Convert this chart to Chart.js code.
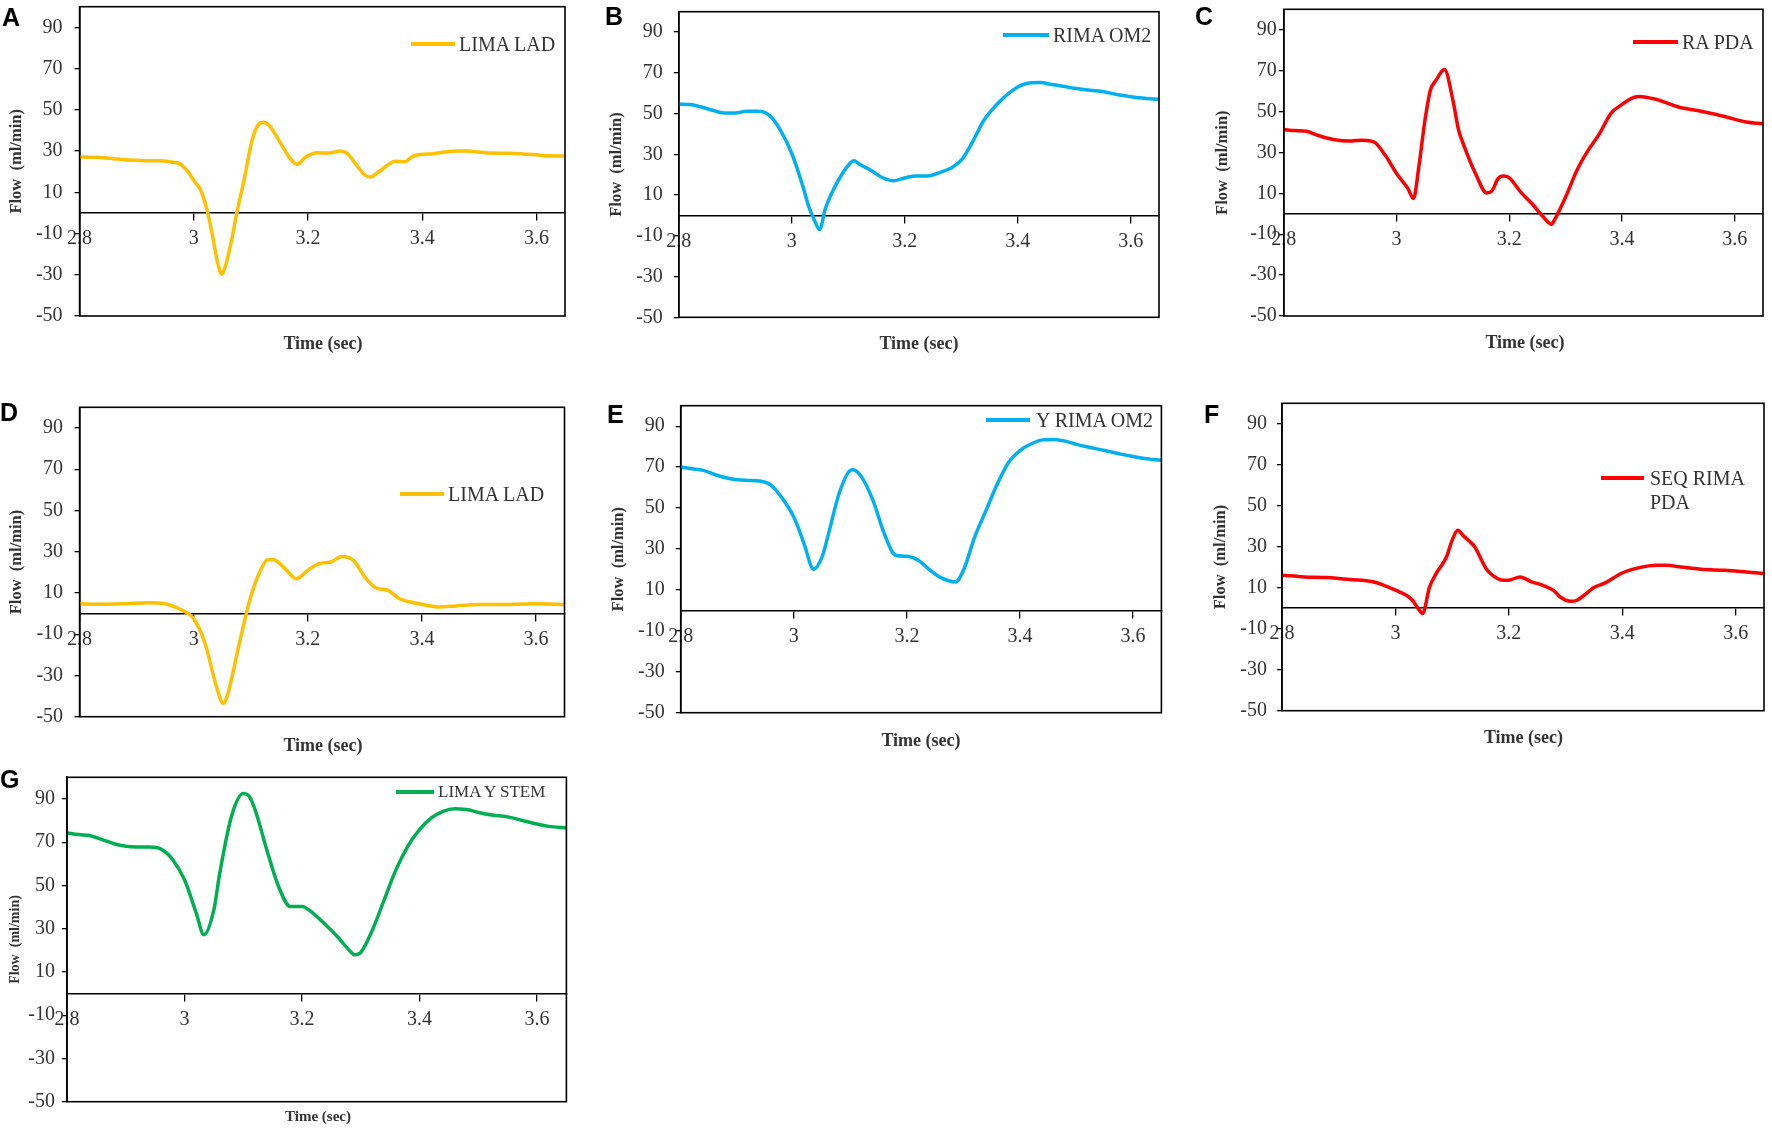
<!DOCTYPE html>
<html>
<head>
<meta charset="utf-8">
<script src="https://cdn.jsdelivr.net/npm/chart.js@4"></script>
<style>
html,body{margin:0;padding:0;background:#fff;}
body{width:1772px;height:1128px;position:relative;overflow:hidden;}
canvas{position:absolute;}
.letter{position:absolute;font-family:"Liberation Sans",Arial,sans-serif;font-weight:bold;color:#000;line-height:1;white-space:nowrap;}
.xtitle{position:absolute;font-family:"Liberation Serif","Times New Roman",serif;font-weight:bold;color:#333;white-space:nowrap;transform:translateX(-50%);}
.legtext{position:absolute;font-family:"Liberation Serif","Times New Roman",serif;color:#333;}
.legline{position:absolute;height:4px;}
</style>
</head>
<body>
<script>
// ---------------- data ----------------
const yTickValues = [-50, -30, -10, 10, 30, 50, 70, 90];
const xTickValues = [2.8, 3, 3.2, 3.4, 3.6];
const panelLetters = ['A', 'B', 'C', 'D', 'E', 'F', 'G'];
const seriesNames = ['LIMA LAD', 'RIMA OM2', 'RA PDA', 'LIMA LAD', 'Y RIMA OM2', 'SEQ RIMA PDA', 'LIMA Y STEM'];
const seriesColors = ['#FFC000', '#00B0F0', '#FF0000', '#FFC000', '#00B0F0', '#FF0000', '#00B050'];
const xAxisTitle = 'Time (sec)';
const yAxisTitle = 'Flow  (ml/min)';

const timeA = [2.80,2.82,2.84,2.86,2.88,2.90,2.92,2.94,2.96,2.975,2.988,3.002,3.012,3.022,3.032,3.042,3.049,3.055,3.065,3.075,3.089,3.102,3.112,3.122,3.132,3.149,3.169,3.181,3.196,3.216,3.236,3.256,3.269,3.283,3.299,3.309,3.323,3.339,3.353,3.369,3.383,3.40,3.42,3.44,3.46,3.48,3.50,3.52,3.55,3.58,3.60,3.62,3.65];
const flowA = [27.1,27,26.8,26.3,25.8,25.5,25.3,25.3,24.7,23.9,20.6,15,11,2.7,-10,-24.5,-29.7,-26,-14.8,-0.5,17.4,35.2,42.4,44,42.4,35.2,26.3,23.5,27.1,29.2,29,30,28.7,23.9,18.5,17.4,19.8,23.1,25,24.8,27.4,28.4,28.7,29.5,30,30,29.5,29,28.9,28.5,28.2,27.7,27.6];

const timeB = [2.80,2.82,2.84,2.86,2.88,2.90,2.92,2.94,2.96,2.98,3.00,3.02,3.03,3.04,3.049,3.06,3.08,3.10,3.11,3.12,3.14,3.16,3.18,3.20,3.22,3.24,3.26,3.28,3.30,3.32,3.34,3.36,3.38,3.40,3.42,3.44,3.46,3.48,3.50,3.52,3.55,3.58,3.60,3.62,3.65];
const flowB = [54.7,54.4,53.2,51.6,50.3,50.3,51.1,51.1,49.2,41.8,30.4,14,4.4,-2.3,-6.9,3.8,16,24.6,26.8,25.1,22.2,18.6,17,18.4,19.4,19.4,20.9,23,27.1,36.1,46.7,53.6,59,63,65,65.2,64.3,63.4,62.4,61.7,60.8,59.1,58.3,57.6,57];

const timeC = [2.80,2.82,2.84,2.86,2.88,2.90,2.92,2.94,2.96,2.98,3.00,3.02,3.03,3.04,3.05,3.06,3.07,3.085,3.10,3.11,3.12,3.14,3.16,3.17,3.18,3.19,3.20,3.22,3.24,3.26,3.275,3.28,3.30,3.32,3.34,3.36,3.38,3.40,3.42,3.43,3.46,3.50,3.54,3.58,3.62,3.65];
const flowC = [41.2,40.7,40.4,38.4,36.8,35.8,35.6,36,35.1,28.6,19.7,12.4,7.5,24,45,60.4,65.3,70.5,55.5,41,33,19.7,10.2,11.5,17.2,18.5,17.6,10.7,5,-1.5,-5.1,-3.1,8.3,21.3,31.1,39.2,49,53.5,56.8,57.4,56,52.2,50.1,47.7,44.9,44.1];

const timeD = [2.80,2.84,2.88,2.92,2.95,2.97,2.99,3.00,3.02,3.04,3.052,3.06,3.08,3.10,3.12,3.13,3.14,3.16,3.18,3.20,3.22,3.24,3.26,3.28,3.30,3.32,3.34,3.36,3.38,3.40,3.43,3.46,3.50,3.55,3.60,3.65];
const flowD = [4.8,4.5,4.8,5.3,4.8,2.9,0,-2.4,-14.5,-35.5,-43.5,-38.7,-14.5,8.1,22.6,26.1,26.1,21.8,16.9,21,24.2,25,27.7,25.8,17.7,12.4,11.3,7.3,5.6,4.5,3.2,3.7,4.4,4.4,4.8,4.4];

const timeE = [2.80,2.82,2.84,2.86,2.88,2.90,2.92,2.94,2.96,2.98,3.00,3.02,3.03,3.035,3.05,3.06,3.08,3.10,3.105,3.12,3.14,3.16,3.18,3.20,3.22,3.24,3.26,3.286,3.30,3.32,3.34,3.36,3.38,3.40,3.42,3.44,3.46,3.48,3.50,3.52,3.55,3.58,3.60,3.62,3.65];
const flowE = [70,69.2,68.4,66.4,64.8,63.8,63.5,63.2,61.1,54.6,45.6,31,22,20.1,26.1,35.9,57,68.4,68.7,65.1,53.7,37.5,26.9,26.4,24.5,19.9,16,13.9,19.6,35.9,48.9,61.9,72.4,78.1,81.4,83.3,83.5,82.7,81.1,79.8,78.1,76.2,75.2,74.2,73.3];

const timeF = [2.80,2.84,2.88,2.92,2.96,2.98,3.00,3.02,3.03,3.04,3.048,3.06,3.072,3.09,3.10,3.11,3.12,3.13,3.14,3.16,3.18,3.19,3.20,3.22,3.24,3.26,3.28,3.29,3.31,3.32,3.34,3.35,3.37,3.40,3.43,3.46,3.48,3.50,3.54,3.58,3.62,3.65];
const flowF = [16.1,15.3,15,14,12.9,11.2,8.8,6.2,3.9,-0.1,-2.6,10.2,17,25,33.2,38,35.3,32.8,29.9,19.3,14.5,13.7,13.7,15.3,12.9,11.2,8.5,5.6,3.4,3.9,8,10.1,12.4,17.2,19.8,21,21,20.2,19,18.5,17.7,16.9];

const timeG = [2.80,2.82,2.84,2.86,2.88,2.90,2.92,2.94,2.96,2.98,3.00,3.02,3.033,3.05,3.06,3.08,3.10,3.11,3.12,3.14,3.16,3.18,3.20,3.22,3.24,3.26,3.28,3.29,3.30,3.32,3.34,3.36,3.38,3.40,3.42,3.44,3.46,3.48,3.50,3.52,3.55,3.58,3.60,3.62,3.65];
const flowG = [74.3,73.5,73,71.2,69.3,68.1,67.8,67.8,66.8,61.9,52.6,37.2,27.2,38.8,55.7,82,92.5,91.2,85.1,66.5,49.6,40.3,40.3,36.9,31.8,26.4,20.2,17.9,19,29.5,43.4,57.3,68.1,75.8,81.2,84.3,85.5,85.1,83.8,82.7,81.7,79.7,78.4,77.3,76.6];

const timeSeries = [timeA, timeB, timeC, timeD, timeE, timeF, timeG];
const flowSeries = [flowA, flowB, flowC, flowD, flowE, flowF, flowG];

// ---------------- layout (positions only) ----------------
const panelLayout = [
  {plot:[79.6,6.7,565,316],    cl:0,    yPad:12, tfs:16.5, leg:{x1:411,x2:455,y:44.3,tx:459,fs:20,w:200}, letter:{x:2,b:26},     xt:{x:323,y:343,fs:18}},
  {plot:[678.8,11.7,1159,317.3],cl:600, yPad:11, tfs:16.5, leg:{x1:1003,x2:1049,y:35,tx:1053,fs:20,w:200}, letter:{x:605,b:25},  xt:{x:919,y:343,fs:18}},
  {plot:[1283.8,9.3,1763,316], cl:1206, yPad:2,  tfs:16.5, leg:{x1:1633,x2:1678,y:41.7,tx:1682,fs:20,w:200}, letter:{x:1195,b:25}, xt:{x:1525,y:342,fs:18}},
  {plot:[79.6,407.3,564.5,716.7],cl:0,  yPad:11.5,tfs:16.5, leg:{x1:400,x2:444,y:494,tx:448,fs:20,w:200}, letter:{x:0,b:421.7},   xt:{x:323,y:745,fs:18}},
  {plot:[680.7,405.7,1161.4,712.7],cl:602,yPad:11,tfs:16.5, leg:{x1:986,x2:1030,y:420,tx:1036,fs:20,w:200}, letter:{x:607,b:423.3}, xt:{x:921,y:740,fs:18}},
  {plot:[1282,403.3,1764,710.7],cl:1204,yPad:10, tfs:16.5, leg:{x1:1601,x2:1644,y:477.7,tx:1650,fs:20,w:104}, letter:{x:1204,b:423.3}, xt:{x:1523.5,y:736.7,fs:18}},
  {plot:[67,777.3,566.4,1101.7],cl:0,   yPad:7,  tfs:14,   leg:{x1:396,x2:434,y:791.7,tx:438,fs:17,w:200}, letter:{x:0,b:788},    xt:{x:318,y:1116,fs:15}}
];

const serif = '"Liberation Serif", "Times New Roman", serif';
const VPAD = 30; // vertical room so tick-label padding never shrinks the plot area

const framePlugin = {
  id: 'frame',
  afterDatasetsDraw(chart) {
    const {ctx, chartArea: a} = chart;
    ctx.save();
    ctx.strokeStyle = '#000';
    ctx.lineWidth = 1.6;
    ctx.strokeRect(a.left, a.top, a.right - a.left, a.bottom - a.top);
    ctx.restore();
  }
};

function addDiv(cls, text, style) {
  const d = document.createElement('div');
  d.className = cls;
  if (text !== null) d.textContent = text;
  Object.assign(d.style, style);
  document.body.appendChild(d);
  return d;
}

panelLayout.forEach((g, i) => {
  const [L, T, R, B] = g.plot;
  const cl = g.cl;
  const ct = Math.round(T) - VPAD;
  const cw = Math.ceil(R - cl + 4);
  const ch = Math.ceil(B - ct + VPAD);
  const canvas = document.createElement('canvas');
  canvas.width = cw; canvas.height = ch;
  canvas.style.left = cl + 'px'; canvas.style.top = ct + 'px';
  canvas.style.width = cw + 'px'; canvas.style.height = ch + 'px';
  document.body.appendChild(canvas);
  const yAxisW = L - cl;
  const tickFont = {family: serif, size: 20};

  new Chart(canvas, {
    type: 'line',
    data: {
      datasets: [{
        label: seriesNames[i],
        data: timeSeries[i].map((t, k) => ({x: t, y: flowSeries[i][k]})),
        borderColor: seriesColors[i],
        backgroundColor: seriesColors[i],
        borderWidth: 3.5,
        pointRadius: 0,
        pointHoverRadius: 0,
        cubicInterpolationMode: 'monotone',
        fill: false
      }]
    },
    options: {
      responsive: false,
      animation: false,
      events: [],
      layout: {padding: {top: T - ct, right: cl + cw - R, bottom: ct + ch - B, left: 0}},
      plugins: {legend: {display: false}, tooltip: {enabled: false}, title: {display: false}},
      scales: {
        x: {
          type: 'linear', min: 2.8, max: 3.65,
          position: {y: 0},
          afterBuildTicks: s => { s.ticks = xTickValues.map(v => ({value: v})); },
          ticks: {callback: v => String(v), font: tickFont, color: '#333', padding: 7, maxRotation: 0, autoSkip: false},
          grid: {drawOnChartArea: false, drawTicks: true, tickLength: 7, color: '#000', lineWidth: 1.3},
          border: {display: true, color: '#000', width: 1.6}
        },
        y: {
          type: 'linear', min: -50, max: 100, position: 'left',
          afterBuildTicks: s => { s.ticks = yTickValues.map(v => ({value: v})); },
          afterFit: s => { s.width = yAxisW; },
          ticks: {callback: v => String(v), font: tickFont, color: '#333', padding: g.yPad, autoSkip: false},
          grid: {drawOnChartArea: false, drawTicks: true, tickLength: 5, color: '#000', lineWidth: 1.3},
          border: {display: true, color: '#000', width: 1.6},
          title: {display: true, text: yAxisTitle, color: '#333',
                  font: {family: serif, size: g.tfs, weight: 'bold', lineHeight: 1.2},
                  padding: {top: 7, bottom: 0}}
        }
      }
    },
    plugins: [framePlugin]
  });

  // legend (inside plot, top right)
  const lg = g.leg;
  addDiv('legline', null, {left: lg.x1 + 'px', top: (lg.y - 2) + 'px', width: (lg.x2 - lg.x1) + 'px', background: seriesColors[i]});
  const lh = Math.round(lg.fs * 1.2);
  addDiv('legtext', seriesNames[i], {left: lg.tx + 'px', top: (lg.y - lh / 2) + 'px', fontSize: lg.fs + 'px', lineHeight: lh + 'px', width: lg.w + 'px'});

  // panel letter
  const fsL = 25;
  addDiv('letter', panelLetters[i], {left: g.letter.x + 'px', top: (g.letter.b - 0.905 * fsL + 0.05 * fsL) + 'px', fontSize: fsL + 'px'});

  // x-axis title
  addDiv('xtitle', xAxisTitle, {left: g.xt.x + 'px', top: (g.xt.y - g.xt.fs / 2) + 'px', fontSize: g.xt.fs + 'px', lineHeight: g.xt.fs + 'px'});
});
</script>
</body>
</html>
